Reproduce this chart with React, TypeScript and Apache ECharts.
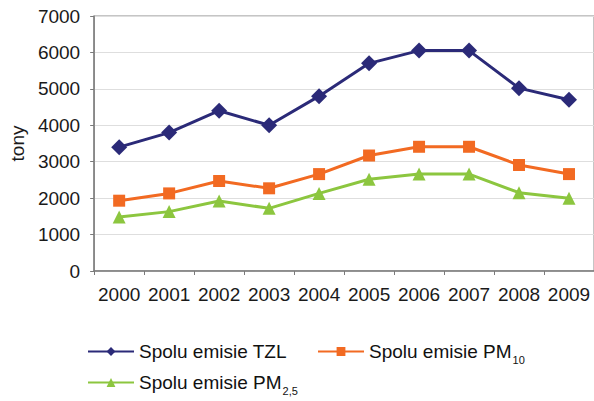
import React, { useEffect, useRef } from "react";
import * as echarts from "echarts";

const years = ["2000", "2001", "2002", "2003", "2004", "2005", "2006", "2007", "2008", "2009"];
const tzl = [3400, 3800, 4400, 4000, 4800, 5700, 6050, 6050, 5020, 4700];
const pm10 = [1930, 2130, 2470, 2270, 2660, 3170, 3410, 3410, 2910, 2660];
const pm25 = [1480, 1630, 1920, 1720, 2130, 2520, 2660, 2660, 2150, 2000];

const seriesNames = ["Spolu emisie TZL", "Spolu emisie PM10", "Spolu emisie PM2,5"];
const legendLabels: Record<string, string> = {
  "Spolu emisie TZL": "{n|Spolu emisie TZL}",
  "Spolu emisie PM10": "{n|Spolu emisie PM}{s|10}",
  "Spolu emisie PM2,5": "{n|Spolu emisie PM}{s|2,5}",
};

const FONT = "Liberation Sans, Arial, sans-serif";
const colors = ["#2b2a78", "#f26a22", "#8cc63f"];

export default function App() {
  const ref = useRef<HTMLDivElement>(null);
  useEffect(() => {
    document.body.style.margin = "0";
    const chart = echarts.init(ref.current!, null, { renderer: "svg" });
    const legendText = {
      fontFamily: FONT,
      color: "#111",
      rich: {
        n: { fontSize: 19, fontFamily: FONT, color: "#111" },
        s: { fontSize: 11, fontFamily: FONT, color: "#111", padding: [16, 0, 0, 1] },
      },
    };
    const mkLegend = (name: string, left: number, top: number) => ({
      data: [name],
      left,
      top,
      orient: "horizontal",
      itemWidth: 46,
      itemHeight: 11,
      itemGap: 6,
      padding: 0,
      formatter: (n: string) => legendLabels[n],
      textStyle: legendText,
      selectedMode: false,
    });
    chart.setOption({
      animation: false,
      textStyle: { fontFamily: FONT },
      grid: { left: 92, top: 16, right: -1, bottom: 130, show: true, borderColor: "#8a8a8a", borderWidth: 1 },
      legend: [
        mkLegend(seriesNames[0], 87, 342),
        mkLegend(seriesNames[1], 317, 342),
        mkLegend(seriesNames[2], 87, 373),
      ],
      xAxis: {
        type: "category",
        data: years,
        boundaryGap: true,
        axisLine: { lineStyle: { color: "#7a7a7a", width: 1.5 } },
        axisTick: { show: true, length: 4, inside: false, lineStyle: { color: "#7a7a7a" } },
        axisLabel: { fontSize: 19, color: "#1a1a1a", fontFamily: FONT, margin: 14, interval: 0 },
      },
      yAxis: {
        type: "value",
        min: 0,
        max: 7000,
        interval: 1000,
        name: "tony",
        nameLocation: "middle",
        nameGap: 64,
        nameTextStyle: { fontSize: 19, color: "#1a1a1a", fontFamily: FONT },
        axisLine: { show: true, lineStyle: { color: "#7a7a7a", width: 1.5 } },
        axisTick: { show: true, length: 4, lineStyle: { color: "#7a7a7a" } },
        axisLabel: {
          fontSize: 19,
          color: "#1a1a1a",
          fontFamily: FONT,
          margin: 14,
          formatter: (v: number) => String(v),
        },
        splitLine: { lineStyle: { color: "#dedede", width: 1 } },
      },
      series: [
        {
          name: seriesNames[0],
          type: "line",
          data: tzl,
          color: colors[0],
          symbol: "diamond",
          symbolSize: 16,
          lineStyle: { width: 3, color: colors[0] },
          itemStyle: { color: colors[0] },
        },
        {
          name: seriesNames[1],
          type: "line",
          data: pm10,
          color: colors[1],
          symbol: "rect",
          symbolSize: 12,
          lineStyle: { width: 3, color: colors[1] },
          itemStyle: { color: colors[1] },
        },
        {
          name: seriesNames[2],
          type: "line",
          data: pm25,
          color: colors[2],
          symbol: "triangle",
          symbolSize: 13,
          lineStyle: { width: 3, color: colors[2] },
          itemStyle: { color: colors[2] },
        },
      ],
    });
    return () => chart.dispose();
  }, []);
  return <div ref={ref} style={{ width: 594, height: 401 }} />;
}
